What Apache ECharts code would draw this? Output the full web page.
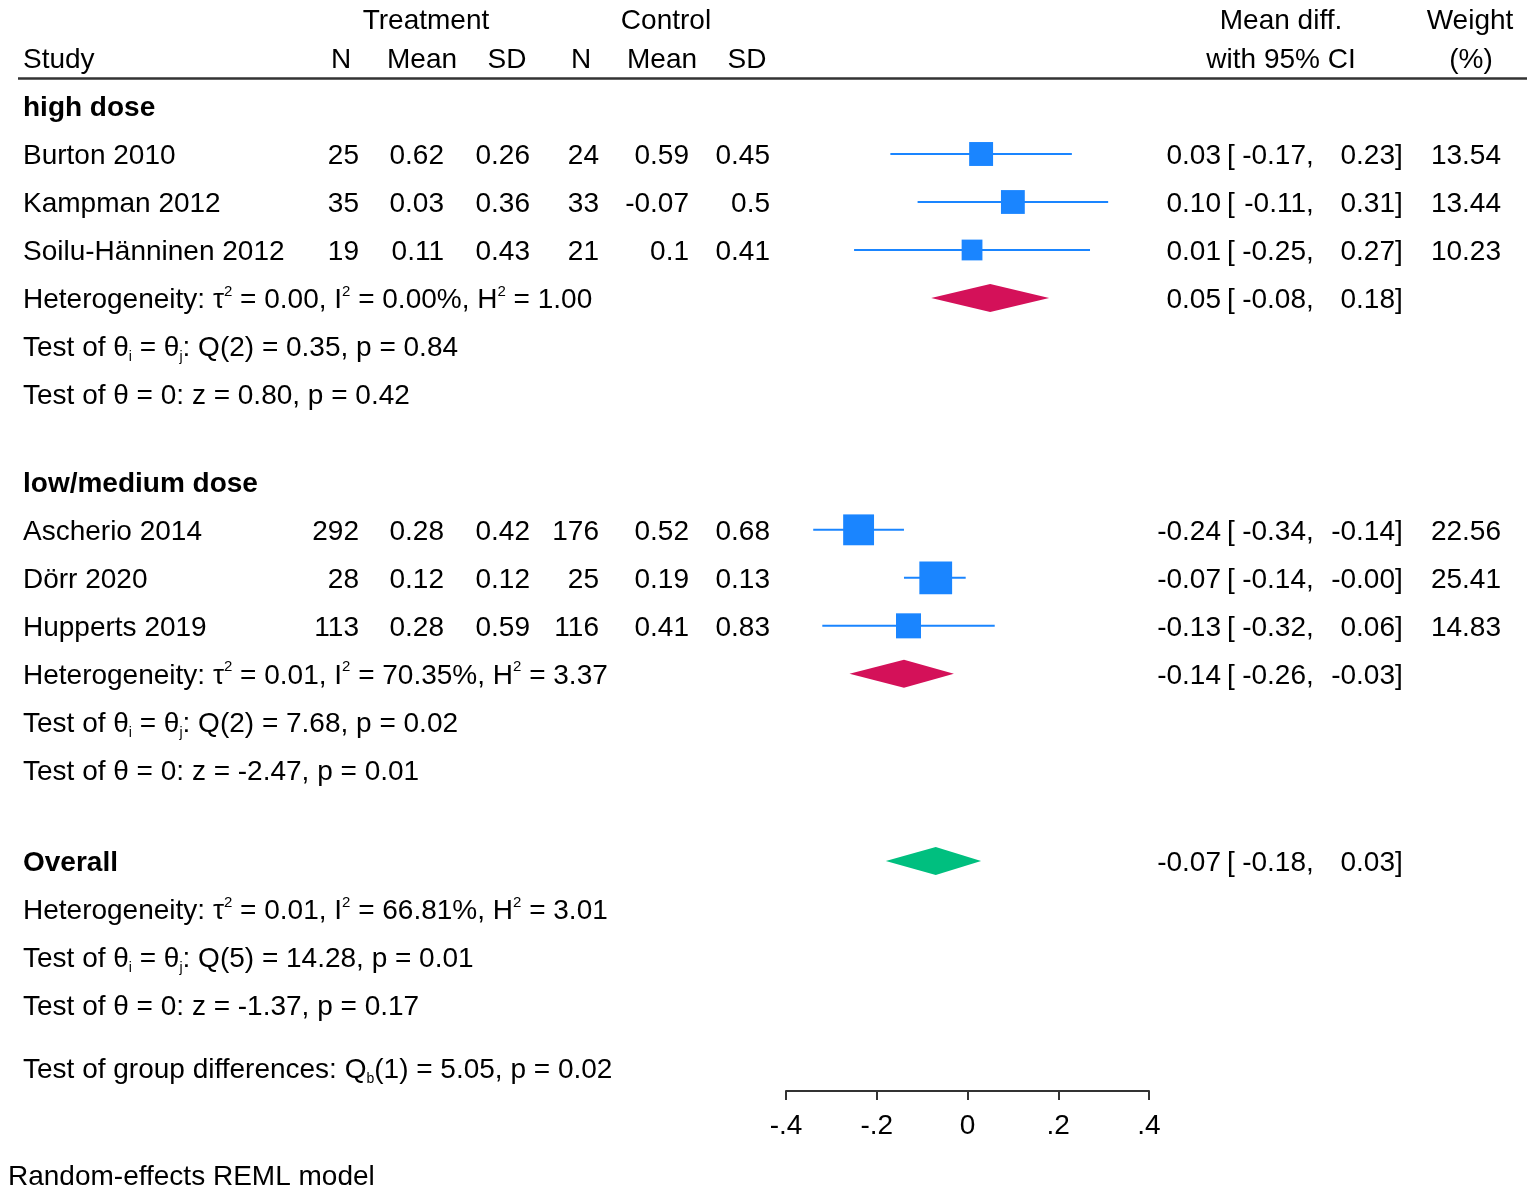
<!DOCTYPE html>
<html><head><meta charset="utf-8">
<script src="https://cdn.jsdelivr.net/npm/echarts@6/dist/echarts.min.js"></script>
<style>html,body{margin:0;padding:0;background:#fff}#c{width:1535px;height:1193px}</style>
</head><body><div id="c"></div>
<script>
// ---------------- data ----------------
const studies   = ['Burton 2010', 'Kampman 2012', 'Soilu-Hänninen 2012', 'Ascherio 2014', 'Dörr 2020', 'Hupperts 2019'];
const groupOf   = [0, 0, 0, 1, 1, 1];
const treatN    = [25, 35, 19, 292, 28, 113];
const treatMean = [0.62, 0.03, 0.11, 0.28, 0.12, 0.28];
const treatSD   = [0.26, 0.36, 0.43, 0.42, 0.12, 0.59];
const ctrlN     = [24, 33, 21, 176, 25, 116];
const ctrlMean  = [0.59, -0.07, 0.1, 0.52, 0.19, 0.41];
const ctrlSD    = [0.45, 0.5, 0.41, 0.68, 0.13, 0.83];
const meanDiff  = [0.03, 0.10, 0.01, -0.24, -0.07, -0.13];
const ciLow     = [-0.17, -0.11, -0.25, -0.34, -0.14, -0.32];
const ciHigh    = [0.23, 0.31, 0.27, -0.14, -0.004, 0.06];
const weights   = [13.54, 13.44, 10.23, 22.56, 25.41, 14.83];

const groupNames = ['high dose', 'low/medium dose'];
const groupEst   = [0.05, -0.14];
const groupLow   = [-0.08, -0.26];
const groupHigh  = [0.18, -0.03];
const groupTau2  = [0.00, 0.01];
const groupI2    = [0.00, 70.35];
const groupH2    = [1.00, 3.37];
const groupQdf   = [2, 2];
const groupQ     = [0.35, 7.68];
const groupQp    = [0.84, 0.02];
const groupZ     = [0.80, -2.47];
const groupZp    = [0.42, 0.01];

const overallEst  = -0.07, overallLow = -0.18, overallHigh = 0.03;
const overallTau2 = 0.01, overallI2 = 66.81, overallH2 = 3.01;
const overallQdf  = 5, overallQ = 14.28, overallQp = 0.01;
const overallZ    = -1.37, overallZp = 0.17;
const groupDiffDf = 1, groupDiffQ = 5.05, groupDiffP = 0.02;

const tickLabels = ['-.4', '-.2', '0', '.2', '.4'];

// ---------------- layout / style ----------------
const FF = '"Liberation Sans", Arial, Helvetica, sans-serif';
const FS = 28;
const DY = 2; // text vertical nudge
const BLUE = '#1a85ff', RED = '#d41159', GREEN = '#00bf7f';
const ROW_PX = 48, GRID_TOP = 10, GRID_BOTTOM = 102, H = 1193;
const groupRowStart = [2, 9.83];
const overallRow = 17.73;
const groupDiffRow = 22.04;
const colRight = { tN: 359, tMean: 444, tSD: 530, cN: 599, cMean: 689, cSD: 770, est: 1221, lo: 1306, hi: 1395, w: 1501 };

const f2 = v => v.toFixed(2);
const hetText = (t, i, h) => '{n|Heterogeneity: τ}{sup|2}{n| = ' + f2(t) + ', I}{sup|2}{n| = ' + f2(i) + '%, H}{sup|2}{n| = ' + f2(h) + '}';
const qText = (df, q, p) => '{n|Test of θ}{sub|i}{n| = θ}{sub|j}{n|: Q(' + df + ') = ' + f2(q) + ', p = ' + f2(p) + '}';
const zText = (z, p) => 'Test of θ = 0: z = ' + f2(z) + ', p = ' + f2(p);

// build rows
const rows = [];
groupNames.forEach((gname, g) => {
  let r = groupRowStart[g];
  rows.push({ kind: 'head', r: r, text: gname });
  studies.forEach((s, i) => { if (groupOf[i] === g) { r += 1; rows.push({ kind: 'study', r: r, i: i }); } });
  r += 1; rows.push({ kind: 'sum', r: r, text: hetText(groupTau2[g], groupI2[g], groupH2[g]), est: groupEst[g], lo: groupLow[g], hi: groupHigh[g], color: RED });
  r += 1; rows.push({ kind: 'rich', r: r, text: qText(groupQdf[g], groupQ[g], groupQp[g]) });
  r += 1; rows.push({ kind: 'plain', r: r, text: zText(groupZ[g], groupZp[g]) });
});
rows.push({ kind: 'sumHead', r: overallRow, text: 'Overall', est: overallEst, lo: overallLow, hi: overallHigh, color: GREEN });
rows.push({ kind: 'rich', r: overallRow + 1, text: hetText(overallTau2, overallI2, overallH2) });
rows.push({ kind: 'rich', r: overallRow + 2, text: qText(overallQdf, overallQ, overallQp) });
rows.push({ kind: 'plain', r: overallRow + 3, text: zText(overallZ, overallZp) });
rows.push({ kind: 'rich', r: groupDiffRow, text: '{n|Test of group differences: Q}{sub|b}{n|(' + groupDiffDf + ') = ' + f2(groupDiffQ) + ', p = ' + f2(groupDiffP) + '}' });

const richStyles = {
  n:   { fontFamily: FF, fontSize: FS, lineHeight: 32, fill: '#000' },
  sub: { fontFamily: FF, fontSize: 14, lineHeight: 18, verticalAlign: 'bottom', fill: '#000' },
  sup: { fontFamily: FF, fontSize: 15, lineHeight: 20, verticalAlign: 'top', fill: '#000' }
};

function txt(x, y, text, align, bold) {
  return { type: 'text', x: x, y: y + DY, silent: true,
    style: { text: text, fill: '#000', fontFamily: FF, fontSize: FS, fontWeight: bold ? 'bold' : 'normal', align: align || 'left', verticalAlign: 'middle' } };
}
function richTxt(x, y, text) {
  return { type: 'text', x: x, y: y + DY, silent: true,
    style: { text: text, rich: richStyles, fill: '#000', fontFamily: FF, fontSize: FS, lineHeight: 32, align: 'left', verticalAlign: 'middle' } };
}
function ciTexts(y, est, lo, hi) {
  return [
    txt(colRight.est, y, f2(est), 'right'),
    txt(colRight.est + 6, y, '[', 'left'),
    txt(colRight.lo, y, f2(lo), 'right'),
    txt(colRight.lo, y, ',', 'left'),
    txt(colRight.hi, y, f2(hi), 'right'),
    txt(colRight.hi, y, ']', 'left')
  ];
}
function diamond(api, y, est, lo, hi, color) {
  const half = 14;
  const xl = api.coord([lo, 0])[0], xe = api.coord([est, 0])[0], xh = api.coord([hi, 0])[0];
  return { type: 'polygon', shape: { points: [[xl, y], [xe, y - half], [xh, y], [xe, y + half]] }, style: { fill: color } };
}

function renderItem(params, api) {
  const row = rows[params.dataIndex];
  const y = api.coord([0, row.r])[1];
  const children = [];
  if (row.kind === 'head') {
    children.push(txt(23, y, row.text, 'left', true));
  } else if (row.kind === 'study') {
    const i = row.i;
    children.push(txt(23, y, studies[i], 'left'));
    children.push(txt(colRight.tN, y, String(treatN[i]), 'right'));
    children.push(txt(colRight.tMean, y, String(treatMean[i]), 'right'));
    children.push(txt(colRight.tSD, y, String(treatSD[i]), 'right'));
    children.push(txt(colRight.cN, y, String(ctrlN[i]), 'right'));
    children.push(txt(colRight.cMean, y, String(ctrlMean[i]), 'right'));
    children.push(txt(colRight.cSD, y, String(ctrlSD[i]), 'right'));
    children.push(...ciTexts(y, meanDiff[i], ciLow[i], ciHigh[i]));
    children.push(txt(colRight.w, y, f2(weights[i]), 'right'));
    const xl = api.coord([ciLow[i], 0])[0], xh = api.coord([ciHigh[i], 0])[0], xe = api.coord([meanDiff[i], 0])[0];
    children.push({ type: 'line', shape: { x1: xl, y1: y, x2: xh, y2: y }, style: { stroke: BLUE, lineWidth: 2 } });
    const side = 6.5 * Math.sqrt(weights[i]);
    children.push({ type: 'rect', shape: { x: xe - side / 2, y: y - side / 2, width: side, height: side }, style: { fill: BLUE } });
  } else if (row.kind === 'sum') {
    children.push(richTxt(23, y, row.text));
    children.push(...ciTexts(y, row.est, row.lo, row.hi));
    children.push(diamond(api, y, row.est, row.lo, row.hi, row.color));
  } else if (row.kind === 'sumHead') {
    children.push(txt(23, y, row.text, 'left', true));
    children.push(...ciTexts(y, row.est, row.lo, row.hi));
    children.push(diamond(api, y, row.est, row.lo, row.hi, row.color));
  } else if (row.kind === 'rich') {
    children.push(richTxt(23, y, row.text));
  } else {
    children.push(txt(23, y, row.text, 'left'));
  }
  return { type: 'group', children: children };
}

const headerTexts = [
  { t: 'Treatment', x: 426, y: 19, a: 'center' },
  { t: 'Control', x: 666, y: 19, a: 'center' },
  { t: 'Mean diff.', x: 1281, y: 19, a: 'center' },
  { t: 'Weight', x: 1470, y: 19, a: 'center' },
  { t: 'Study', x: 23, y: 58, a: 'left' },
  { t: 'N', x: 341, y: 58, a: 'center' },
  { t: 'Mean', x: 422, y: 58, a: 'center' },
  { t: 'SD', x: 507, y: 58, a: 'center' },
  { t: 'N', x: 581, y: 58, a: 'center' },
  { t: 'Mean', x: 662, y: 58, a: 'center' },
  { t: 'SD', x: 747, y: 58, a: 'center' },
  { t: 'with 95% CI', x: 1281, y: 58, a: 'center' },
  { t: '(%)', x: 1471, y: 58, a: 'center' },
  { t: 'Random-effects REML model', x: 8, y: 1175, a: 'left' }
];

const chart = echarts.init(document.getElementById('c'), null, { renderer: 'canvas' });
chart.setOption({
  backgroundColor: '#fff',
  animation: false,
  grid: { left: 786, right: 1535 - 1149, top: GRID_TOP, bottom: GRID_BOTTOM },
  xAxis: {
    type: 'value', min: -0.4, max: 0.4, interval: 0.2,
    axisLine: { show: true, onZero: false, lineStyle: { color: '#333', width: 2 } },
    axisTick: { show: true, length: 9, lineStyle: { color: '#333', width: 2 } },
    axisLabel: { color: '#000', fontFamily: FF, fontSize: FS, margin: 21,
      formatter: v => tickLabels[Math.round((v + 0.4) / 0.2)] },
    splitLine: { show: false }
  },
  yAxis: { type: 'value', inverse: true, min: 0, max: (H - GRID_TOP - GRID_BOTTOM) / ROW_PX, show: false, splitLine: { show: false } },
  graphic: [
    { type: 'line', silent: true, shape: { x1: 18, y1: 78.5, x2: 1527, y2: 78.5 }, style: { stroke: '#333', lineWidth: 2.5 } }
  ].concat(headerTexts.map(h => ({
    type: 'text', x: h.x, y: h.y + DY, silent: true,
    style: { text: h.t, fill: '#000', fontFamily: FF, fontSize: FS, align: h.a, verticalAlign: 'middle' }
  }))),
  series: [{
    type: 'custom', silent: true, clip: false,
    renderItem: renderItem,
    encode: { x: 0, y: 1 },
    data: rows.map((row, k) => [0, row.r, k])
  }]
});
</script>
</body></html>
